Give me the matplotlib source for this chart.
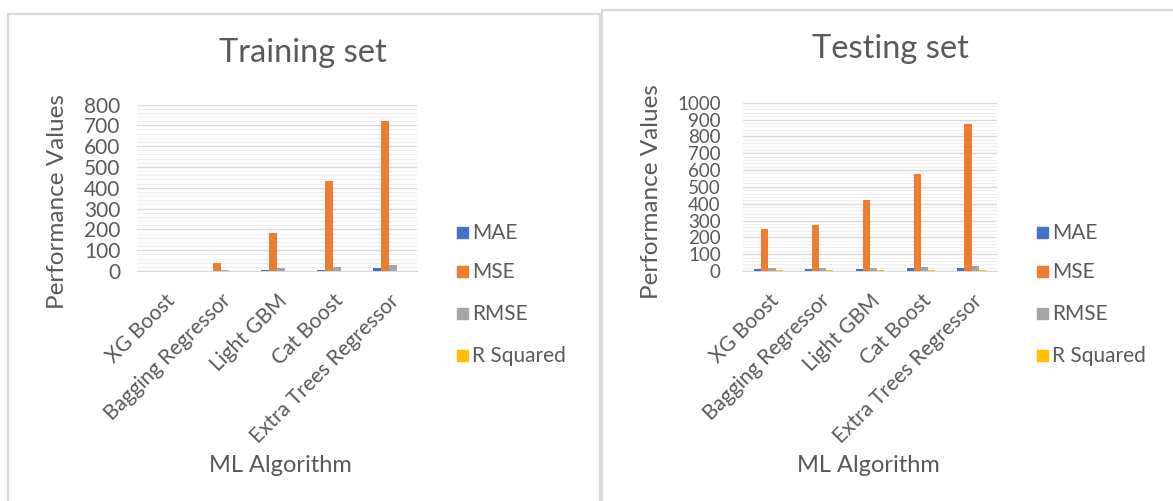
import numpy as np
import matplotlib
matplotlib.use("Agg")
import matplotlib.pyplot as plt
from matplotlib.patches import Rectangle
from matplotlib.ticker import MultipleLocator

plt.rcParams['font.family'] = ['Lato', 'DejaVu Sans']

algorithms = ["XG Boost", "Bagging Regressor", "Light GBM", "Cat Boost", "Extra Trees Regressor"]
metrics = ["MAE", "MSE", "RMSE", "R Squared"]
colors = ["#4472C4", "#ED7D31", "#A5A5A5", "#FFC000"]

# Training set scores
train_mae = [0.4, 1.5, 3.0, 7.0, 13.0]
train_mse = [1.0, 40.0, 181.0, 434.0, 722.0]
train_rmse = [1.0, 6.3, 13.5, 20.8, 26.9]
train_r2 = [0.99, 0.98, 0.92, 0.81, 0.69]

# Testing set scores
test_mae = [9.0, 9.0, 9.0, 16.0, 17.0]
test_mse = [247.0, 275.0, 422.0, 578.0, 871.0]
test_rmse = [15.7, 16.6, 20.5, 24.0, 29.5]
test_r2 = [6.0, 6.0, 6.0, 6.0, 6.0]

W, H = 1173, 501
fig = plt.figure(figsize=(W / 100, H / 100), dpi=100)
fig.patch.set_facecolor("white")

# panel frames
for (x0, y0, x1) in [(8, 14, 600), (602, 10, 1180)]:
    fig.patches.append(Rectangle((x0 / W, -0.05), (x1 - x0) / W, 1.05 - y0 / H,
                                 transform=fig.transFigure, fill=False,
                                 edgecolor="#d9d9d9", linewidth=1.5))

text_c = "#595959"


def panel(rect, title, series, ymax, ytick_size, ytick_pad,
          title_xy, ylab_xy, xlab_xy, leg_x):
    ax = fig.add_axes(rect)
    x = np.arange(len(algorithms))
    bw = 0.14
    for i, (vals, c) in enumerate(zip(series, colors)):
        ax.bar(x + (i - 1.5) * bw, vals, width=bw, color=c, zorder=3)
    ax.set_xlim(-0.5, len(algorithms) - 0.5)
    ax.set_ylim(0, ymax)
    ax.yaxis.set_major_locator(MultipleLocator(100))
    ax.yaxis.set_minor_locator(MultipleLocator(20))
    ax.grid(axis="y", which="major", color="#d9d9d9", linewidth=1.0, zorder=0)
    ax.grid(axis="y", which="minor", color="#efefef", linewidth=0.8, zorder=0)
    for s in ["top", "right", "left"]:
        ax.spines[s].set_visible(False)
    ax.spines["bottom"].set_color("#d9d9d9")
    ax.tick_params(axis="both", which="both", length=0, colors=text_c)
    ax.tick_params(axis="y", pad=ytick_pad, labelsize=ytick_size)
    ax.set_xticks(x)
    ax.set_xticklabels(algorithms, rotation=45, ha="right", rotation_mode="anchor",
                       color=text_c, fontsize=15)
    ax.tick_params(axis="x", pad=14)
    fig.text(title_xy[0] / W, 1 - title_xy[1] / H, title, ha="center", va="center",
             fontsize=23.5, color=text_c)
    fig.text(ylab_xy[0] / W, 1 - ylab_xy[1] / H, "Performance Values", rotation=90,
             ha="center", va="center", fontsize=17.5, color=text_c)
    fig.text(xlab_xy[0] / W, 1 - xlab_xy[1] / H, "ML Algorithm", ha="center",
             va="center", fontsize=17, color=text_c)
    for i, (m, c) in enumerate(zip(metrics, colors)):
        y = [233, 272, 314, 356][i]
        fig.patches.append(Rectangle(((leg_x - 5) / W, 1 - (y + 5) / H), 11 / W, 11 / H,
                                     transform=fig.transFigure, color=c))
        fig.text((leg_x + 10) / W, 1 - y / H, m, ha="left", va="center",
                 fontsize=15, color=text_c)
    return ax


panel([137 / W, (H - 271) / H, 280 / W, (271 - 104.5) / H], "Training set",
      [train_mae, train_mse, train_rmse, train_r2], 800, 15, 12,
      (303, 53), (58, 202), (280, 465), 462)
panel([743 / W, (H - 271) / H, 254 / W, (271 - 102.7) / H], "Testing set",
      [test_mae, test_mse, test_rmse, test_r2], 1000, 13.5, 16,
      (890, 49), (651, 192), (868, 465), 1042)

fig.savefig("out.png", dpi=100, facecolor="white")
